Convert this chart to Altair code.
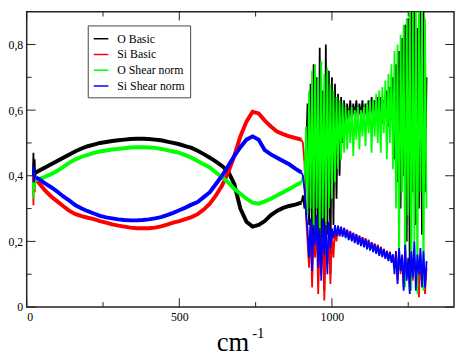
import altair as alt
import pandas as pd

names = ["O Basic", "Si Basic", "O Shear norm", "Si Shear norm"]
colors = ["#000000", "#ff0000", "#00ff00", "#0000ff"]

# tick values
x_major = [0, 500, 1000]
x_minor = [250, 750, 1250]
y_major = [0, 0.2, 0.4, 0.6, 0.8]
y_minor = [0.1, 0.3, 0.5, 0.7]

# first few (noisy) points
x_start = [20, 22, 24, 26, 28, 30]
start_black = [0.40, 0.47, 0.38, 0.45, 0.39, 0.41]
start_red = [0.40, 0.31, 0.41, 0.35, 0.39, 0.39]
start_green = [0.38, 0.33, 0.40, 0.36, 0.39, 0.387]
start_blue = [0.40, 0.43, 0.38, 0.41, 0.395, 0.395]

# smooth part
x_smooth = [30, 40, 60, 80, 100, 120, 140, 160, 180, 200, 220, 240, 260, 280, 300,
            320, 340, 360, 380, 400, 420, 440, 460, 480, 500, 520, 540, 560, 580, 600,
            620, 640, 660, 680, 700, 720, 740, 760, 780, 800, 820, 840, 860, 880, 900]
smooth_black = [0.41, 0.415, 0.425, 0.435, 0.445, 0.455, 0.465, 0.475, 0.483, 0.49,
                0.495, 0.50, 0.503, 0.506, 0.508, 0.51, 0.512, 0.513, 0.513, 0.512,
                0.51, 0.508, 0.504, 0.50, 0.496, 0.49, 0.485, 0.476, 0.466, 0.455,
                0.443, 0.43, 0.413, 0.375, 0.30, 0.26, 0.245, 0.25, 0.262, 0.28,
                0.293, 0.302, 0.308, 0.312, 0.318]
smooth_red = [0.39, 0.378, 0.355, 0.337, 0.322, 0.307, 0.293, 0.283, 0.277, 0.272,
              0.268, 0.262, 0.257, 0.252, 0.248, 0.245, 0.242, 0.24, 0.24, 0.24,
              0.242, 0.246, 0.251, 0.257, 0.262, 0.268, 0.274, 0.283, 0.297, 0.315,
              0.34, 0.37, 0.41, 0.46, 0.52, 0.565, 0.595, 0.59, 0.568, 0.55,
              0.535, 0.527, 0.52, 0.515, 0.51]
smooth_green = [0.387, 0.39, 0.397, 0.405, 0.415, 0.427, 0.44, 0.45, 0.458, 0.464,
                0.47, 0.474, 0.477, 0.48, 0.482, 0.484, 0.486, 0.487, 0.487, 0.486,
                0.485, 0.482, 0.478, 0.474, 0.47, 0.463, 0.455, 0.445, 0.435, 0.425,
                0.41, 0.395, 0.38, 0.36, 0.345, 0.33, 0.318, 0.315, 0.322, 0.33,
                0.34, 0.35, 0.36, 0.37, 0.38]
smooth_blue = [0.395, 0.39, 0.377, 0.365, 0.352, 0.337, 0.324, 0.31, 0.30, 0.292,
               0.285, 0.278, 0.273, 0.27, 0.267, 0.265, 0.264, 0.264, 0.265, 0.267,
               0.27, 0.274, 0.28, 0.287, 0.295, 0.303, 0.312, 0.32, 0.335, 0.35,
               0.375, 0.40, 0.43, 0.46, 0.487, 0.51, 0.52, 0.51, 0.478, 0.465,
               0.455, 0.445, 0.435, 0.422, 0.41]

# noisy part, 900 .. 1310 every 5
x_noisy = list(range(900, 1311, 5))
noisy_black = [0.318,
    0.34, 0.30, 0.45, 0.62, 0.25, 0.68, 0.12, 0.74, 0.20, 0.70,
    0.08, 0.79, 0.15, 0.66, 0.05, 0.80, 0.22, 0.72, 0.10, 0.70,
    0.25, 0.68, 0.33, 0.65, 0.40, 0.64, 0.50, 0.63, 0.55, 0.62,
    0.56, 0.63, 0.57, 0.62, 0.58, 0.63, 0.57, 0.62, 0.58, 0.63,
    0.57, 0.62, 0.58, 0.63, 0.57, 0.64, 0.58, 0.63, 0.58, 0.64,
    0.58, 0.64, 0.56, 0.63, 0.59, 0.66, 0.55, 0.67, 0.57, 0.70,
    0.45, 0.74, 0.38, 0.78, 0.30, 0.82, 0.40, 0.86, 0.20, 0.88,
    0.09, 0.90, 0.35, 0.92, 0.25, 0.85, 0.30, 0.92, 0.22, 0.90,
    0.35, 0.70]
noisy_red = [0.51,
    0.50, 0.44, 0.28, 0.20, 0.12, 0.25, 0.06, 0.22, 0.15, 0.27,
    0.04, 0.21, 0.10, 0.25, 0.02, 0.20, 0.13, 0.24, 0.07, 0.22,
    0.15, 0.24, 0.20, 0.245, 0.215, 0.238, 0.22, 0.242, 0.215, 0.235,
    0.208, 0.232, 0.205, 0.226, 0.198, 0.222, 0.195, 0.218, 0.19, 0.213,
    0.186, 0.21, 0.18, 0.205, 0.176, 0.198, 0.171, 0.194, 0.166, 0.19,
    0.16, 0.184, 0.155, 0.178, 0.15, 0.172, 0.145, 0.168, 0.14, 0.16,
    0.12, 0.17, 0.08, 0.16, 0.10, 0.15, 0.06, 0.17, 0.09, 0.14,
    0.05, 0.16, 0.08, 0.15, 0.10, 0.14, 0.03, 0.16, 0.07, 0.13,
    0.04, 0.12]
noisy_green = [0.38,
    0.40, 0.36, 0.55, 0.28, 0.66, 0.30, 0.72, 0.24, 0.74, 0.30,
    0.70, 0.22, 0.75, 0.27, 0.71, 0.26, 0.73, 0.30, 0.68, 0.33,
    0.66, 0.38, 0.64, 0.42, 0.63, 0.45, 0.62, 0.47, 0.61, 0.48,
    0.60, 0.50, 0.61, 0.46, 0.60, 0.51, 0.61, 0.48, 0.60, 0.52,
    0.61, 0.49, 0.62, 0.53, 0.63, 0.47, 0.63, 0.52, 0.65, 0.50,
    0.66, 0.47, 0.67, 0.53, 0.69, 0.45, 0.71, 0.50, 0.74, 0.42,
    0.78, 0.30, 0.80, 0.12, 0.83, 0.35, 0.86, 0.06, 0.88, 0.28,
    0.92, 0.05, 0.90, 0.20, 0.93, 0.04, 0.91, 0.35, 0.93, 0.05,
    0.88, 0.30]
noisy_blue = [0.41,
    0.40, 0.36, 0.29, 0.24, 0.15, 0.27, 0.11, 0.25, 0.19, 0.28,
    0.12, 0.24, 0.08, 0.27, 0.16, 0.25, 0.10, 0.26, 0.18, 0.24,
    0.21, 0.25, 0.215, 0.248, 0.218, 0.245, 0.214, 0.24, 0.21, 0.236,
    0.204, 0.23, 0.20, 0.226, 0.195, 0.222, 0.19, 0.216, 0.186, 0.212,
    0.182, 0.207, 0.176, 0.202, 0.172, 0.197, 0.167, 0.192, 0.162, 0.187,
    0.156, 0.182, 0.152, 0.176, 0.147, 0.17, 0.14, 0.168, 0.135, 0.16,
    0.10, 0.17, 0.07, 0.18, 0.11, 0.16, 0.05, 0.19, 0.08, 0.15,
    0.04, 0.17, 0.09, 0.20, 0.05, 0.16, 0.10, 0.18, 0.06, 0.17,
    0.06, 0.14]

starts = [start_black, start_red, start_green, start_blue]
smooths = [smooth_black, smooth_red, smooth_green, smooth_blue]
noisies = [noisy_black, noisy_red, noisy_green, noisy_blue]

rows = []
for name, st, sm, no in zip(names, starts, smooths, noisies):
    assert len(st) == len(x_start) and len(sm) == len(x_smooth) and len(no) == len(x_noisy), name
    for x, y in zip(x_start, st):
        rows.append({"series": name, "part": "start", "x": x, "y": y})
    for x, y in zip(x_smooth, sm):
        rows.append({"series": name, "part": "smooth", "x": x, "y": y})
    for x, y in zip(x_noisy, no):
        rows.append({"series": name, "part": "noisy", "x": x, "y": y})
df = pd.DataFrame(rows)

W, H = 434, 300
FONT = "Liberation Serif, Times New Roman, serif"
FRAME = "#222222"

xscale = alt.Scale(domain=[0, 1400], nice=False, zero=False)
yscale = alt.Scale(domain=[0, 0.9], nice=False, zero=False)
xaxis = alt.Axis(values=x_major, format="d", ticks=False, domain=False, grid=False,
                 labelFont=FONT, labelFontSize=12, labelColor="black", labelPadding=5,
                 title=None)
yaxis = alt.Axis(values=y_major, ticks=False, domain=False, grid=False,
                 labelExpr="datum.value == 0 ? '0' : replace(format(datum.value, '.1f'), '.', ',')",
                 labelFont=FONT, labelFontSize=12, labelColor="black", labelPadding=4,
                 title=None)
cscale = alt.Scale(domain=names, range=colors)
legend = alt.Legend(orient="none", legendX=62, legendY=14, title=None,
                    padding=5, strokeColor="#444444", fillColor="white",
                    labelFont=FONT, labelFontSize=12, labelColor="black",
                    symbolType="stroke", symbolSize=220, symbolStrokeWidth=1.5,
                    rowPadding=1, labelOffset=8)

base = alt.Chart(df)
layers = []
for name in names:
    sel = base.transform_filter(alt.datum.series == name)
    smooth = sel.transform_filter(alt.datum.part == "smooth").mark_line(
        strokeWidth=4, clip=True).encode(
        x=alt.X("x:Q", scale=xscale, axis=xaxis),
        y=alt.Y("y:Q", scale=yscale, axis=yaxis),
        color=alt.Color("series:N", scale=cscale, legend=legend),
    )
    thin = sel.transform_filter(alt.datum.part != "smooth").mark_line(
        strokeWidth=1.8, clip=True).encode(
        x=alt.X("x:Q", scale=xscale, axis=xaxis),
        y=alt.Y("y:Q", scale=yscale, axis=yaxis),
        color=alt.Color("series:N", scale=cscale, legend=legend),
        detail="part:N",
    )
    layers += [smooth, thin]

def xticks(vals, ln):
    d = alt.Chart(pd.DataFrame({"v": vals}))
    b = d.mark_rule(color=FRAME, strokeWidth=1).encode(
        x=alt.X("v:Q", scale=xscale, axis=xaxis), y=alt.value(H), y2=alt.value(H - ln))
    t = d.mark_rule(color=FRAME, strokeWidth=1).encode(
        x=alt.X("v:Q", scale=xscale, axis=xaxis), y=alt.value(0), y2=alt.value(ln))
    return [b, t]

def yticks(vals, ln):
    d = alt.Chart(pd.DataFrame({"v": vals}))
    l = d.mark_rule(color=FRAME, strokeWidth=1).encode(
        y=alt.Y("v:Q", scale=yscale, axis=yaxis), x=alt.value(0), x2=alt.value(ln))
    r = d.mark_rule(color=FRAME, strokeWidth=1).encode(
        y=alt.Y("v:Q", scale=yscale, axis=yaxis), x=alt.value(W), x2=alt.value(W - ln))
    return [l, r]

ticks = xticks(x_major, 9) + xticks(x_minor, 5) + yticks(y_major, 9) + yticks(y_minor, 5)

one = alt.Data(values=[{}])
title_cm = alt.Chart(one).mark_text(text="cm", font=FONT, fontSize=27, align="left",
                                    baseline="alphabetic", color="black").encode(
    x=alt.value(193), y=alt.value(345))
title_sup = alt.Chart(one).mark_text(text="-1", font=FONT, fontSize=15, align="left",
                                     baseline="alphabetic", color="black").encode(
    x=alt.value(229), y=alt.value(331))

chart = alt.layer(*layers, *ticks, title_cm, title_sup).properties(
    width=W, height=H,
    padding={"left": 19, "top": 1, "right": 1, "bottom": 47},
    autosize=alt.AutoSizeParams(type="none"),
).configure_view(stroke=FRAME, strokeWidth=1.5)

chart.save("out.html", embed_options={"renderer": "svg", "actions": False})
